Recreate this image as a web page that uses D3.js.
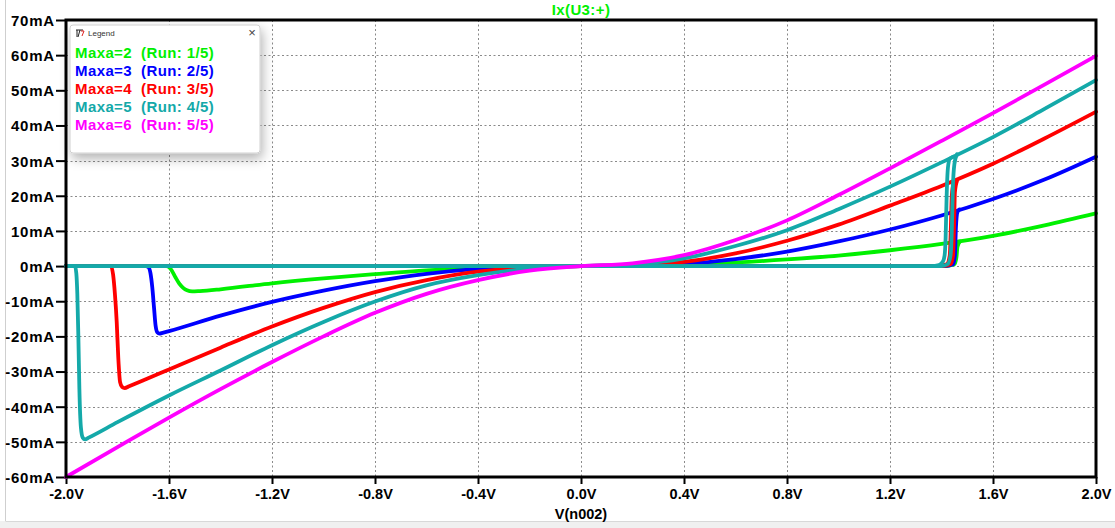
<!DOCTYPE html>
<html><head><meta charset="utf-8">
<script src="https://cdn.jsdelivr.net/npm/d3@7/dist/d3.min.js"></script>
<style>
html,body{margin:0;padding:0;background:#fff;}
svg text{font-family:"Liberation Sans",Arial,sans-serif;}
</style></head>
<body><svg id="c" width="1115" height="528"></svg>
<script>
// ---------- data ----------
const TITLE = "Ix(U3:+)";
const X_TITLE = "V(n002)";
const X_TICKS = [-2.0,-1.6,-1.2,-0.8,-0.4,0.0,0.4,0.8,1.2,1.6,2.0];
const X_TICK_LABELS = ["-2.0V","-1.6V","-1.2V","-0.8V","-0.4V","0.0V","0.4V","0.8V","1.2V","1.6V","2.0V"];
const Y_TICKS = [70,60,50,40,30,20,10,0,-10,-20,-30,-40,-50,-60];
const Y_TICK_LABELS = ["70mA","60mA","50mA","40mA","30mA","20mA","10mA","0mA","-10mA","-20mA","-30mA","-40mA","-50mA","-60mA"];

const SERIES_NAMES = ["Maxa=2","Maxa=3","Maxa=4","Maxa=5","Maxa=6"];
const RUN_LABELS = ["(Run: 1/5)","(Run: 2/5)","(Run: 3/5)","(Run: 4/5)","(Run: 5/5)"];
const COLORS = ["#00f000","#0000ff","#ff0000","#14a9a9","#ff00ff"];

// conductive (ON) branch, current in mA at the voltage grid (null = switched off there)
const V_GRID = [-2.0,-1.8,-1.6,-1.4,-1.2,-1.0,-0.8,-0.6,-0.4,-0.2,0.0,0.2,0.4,0.6,0.8,1.0,1.2,1.4,1.6,1.8,2.0];
const I_MAXA2 = [null,null,null,-6.6,-4.9,-3.5,-2.3,-1.2,-0.45,-0.08,0,0.06,0.4,1.0,1.9,3.0,4.5,6.3,8.6,11.6,15.0];
const I_MAXA3 = [null,null,-18.5,-14.1,-10.2,-7.0,-4.3,-2.2,-0.8,-0.15,0,0.12,0.6,2.0,4.1,7.0,10.4,14.4,19.1,24.6,31.1];
const I_MAXA4 = [null,null,-29.4,-23.2,-17.2,-11.9,-7.4,-4.0,-1.6,-0.4,0,0.25,1.2,3.6,7.2,11.8,17.2,22.8,29.1,36.3,43.9];
const I_MAXA5 = [null,-44.4,-36.8,-29.7,-22.5,-15.9,-10.1,-5.5,-2.6,-0.7,0,0.5,2.2,5.7,10.2,16.2,22.6,29.5,36.7,44.7,52.9];
const I_MAXA6 = [-60.0,-51.5,-43.1,-35.0,-27.3,-20.0,-13.3,-7.9,-4.0,-1.3,0,0.8,3.1,7.4,13.0,20.2,27.8,35.6,43.5,51.6,59.8];

// negative-side switch-off transitions [V, mA] (from the OFF level down to the ON branch)
const NEG_OFF_MAXA2 = [[-1.61,0],[-1.60,-0.3],[-1.59,-1.2],[-1.575,-3.2],[-1.56,-5.0],[-1.545,-6.2],[-1.53,-6.9],[-1.51,-7.2],[-1.48,-7.1]];
const NEG_OFF_MAXA3 = [[-1.69,0],[-1.68,-0.3],[-1.672,-2],[-1.665,-6],[-1.658,-12],[-1.652,-17.0],[-1.645,-18.9],[-1.637,-19.2],[-1.625,-19.0]];
const NEG_OFF_MAXA4 = [[-1.825,0],[-1.817,-2.5],[-1.81,-8],[-1.803,-16],[-1.797,-26],[-1.79,-33],[-1.782,-34.4],[-1.772,-34.7],[-1.755,-34.2]];
const NEG_OFF_MAXA5 = [[-1.965,0],[-1.96,-2],[-1.956,-8],[-1.952,-20],[-1.948,-35],[-1.942,-46],[-1.935,-48.8],[-1.926,-49.3],[-1.912,-48.8]];
const NEG_OFF_MAXA6 = [];

// positive-side switch-on transitions, two sweeps each [V, mA]
const POS_ON_MAXA2 = [[[1.40,0],[1.44,0.5],[1.45,2.5],[1.455,5.5],[1.465,6.9]],
                      [[1.41,0],[1.45,0.5],[1.458,2.5],[1.462,5.5],[1.472,7.0]]];
const POS_ON_MAXA3 = [[[1.39,0],[1.43,0.5],[1.44,3],[1.444,10],[1.45,14.6],[1.458,15.6]],
                      [[1.41,0],[1.445,0.5],[1.452,3],[1.456,11],[1.462,15.4],[1.47,16.1]]];
const POS_ON_MAXA4 = [[[1.38,0],[1.42,0.5],[1.432,3],[1.436,10],[1.44,20],[1.447,23.6]],
                      [[1.40,0],[1.435,0.5],[1.445,3],[1.449,12],[1.452,21],[1.46,24.2]]];
const POS_ON_MAXA5 = [[[1.36,0],[1.39,0.3],[1.405,1.2],[1.412,3],[1.416,8],[1.42,20],[1.425,28],[1.432,30.5],[1.445,31.1]],
                      [[1.40,0],[1.425,0.6],[1.435,3],[1.44,10],[1.444,22],[1.45,29],[1.46,31.8]]];
const POS_ON_MAXA6 = [];

// ---------- drawing ----------
const ON = [I_MAXA2,I_MAXA3,I_MAXA4,I_MAXA5,I_MAXA6];
const NEG = [NEG_OFF_MAXA2,NEG_OFF_MAXA3,NEG_OFF_MAXA4,NEG_OFF_MAXA5,NEG_OFF_MAXA6];
const POS = [POS_ON_MAXA2,POS_ON_MAXA3,POS_ON_MAXA4,POS_ON_MAXA5,POS_ON_MAXA6];

const svg = d3.select("#c");
const L = 66, R = 1096, T = 20, B = 477;
const x = d3.scaleLinear().domain([-2,2]).range([L,R]);
const y = d3.scaleLinear().domain([-60,70]).range([B,T]);

svg.append("rect").attr("width",1115).attr("height",528).attr("fill","#fff");
svg.append("rect").attr("x",0).attr("y",521).attr("width",1115).attr("height",7).attr("fill","#f0f0f0");
svg.append("line").attr("x1",5.5).attr("x2",5.5).attr("y1",0).attr("y2",521).attr("stroke","#cfcfcf");
svg.append("line").attr("x1",5.5).attr("x2",1115).attr("y1",521.5).attr("y2",521.5).attr("stroke","#d8d8d8");

// grid
const grid = svg.append("g").attr("stroke","#8a8a8a").attr("stroke-width",1).attr("stroke-dasharray","2,2.5");
X_TICKS.forEach(v=>grid.append("line").attr("x1",Math.round(x(v))+0.5).attr("x2",Math.round(x(v))+0.5).attr("y1",T).attr("y2",B));
Y_TICKS.forEach(v=>grid.append("line").attr("x1",L).attr("x2",R).attr("y1",Math.round(y(v))+0.5).attr("y2",Math.round(y(v))+0.5));

// axes via d3 axis
const xAxis = d3.axisBottom(x).tickValues(X_TICKS).tickFormat((d,i)=>X_TICK_LABELS[i]).tickSize(7).tickPadding(5);
const yAxis = d3.axisLeft(y).tickValues(Y_TICKS).tickFormat((d,i)=>Y_TICK_LABELS[i]).tickSize(10).tickPadding(1);
const gx = svg.append("g").attr("transform",`translate(0,${B})`).call(xAxis);
const gy = svg.append("g").attr("transform",`translate(${L},0)`).call(yAxis);
[gx,gy].forEach(g=>{
  g.select(".domain").remove();
  g.selectAll(".tick line").attr("stroke","#000").attr("stroke-width",2);
  g.selectAll(".tick text").attr("fill","#000").attr("font-weight","bold")
   .attr("font-family","'Liberation Sans',Arial,sans-serif");
});
gx.selectAll(".tick text").attr("font-size","14.5px");
gy.selectAll(".tick text").attr("font-size","15px").attr("letter-spacing","0.8px").attr("dy","0.36em");

// traces
const lineGen = d3.line().x(d=>x(d[0])).y(d=>y(d[1])).curve(d3.curveMonotoneX);
const plot = svg.append("g").attr("fill","none").attr("stroke-width",3.8).attr("stroke-linejoin","round").attr("stroke-linecap","round");
ON.forEach((arr,s)=>{
  const neg = NEG[s];
  const lastNegV = neg.length ? neg[neg.length-1][0] : -Infinity;
  const on = V_GRID.map((v,i)=>[v,arr[i]]).filter(p=>p[1]!==null && p[0]>lastNegV);
  const ptsA = (neg.length ? [[-2,0]] : []).concat(neg, on);
  plot.append("path").attr("d",lineGen(ptsA)).attr("stroke",COLORS[s]);
  POS[s].forEach(sw=>{
    const pts = [[-2,0]].concat(sw);
    plot.append("path").attr("d",lineGen(pts)).attr("stroke",COLORS[s]);
  });
});

// frame
const frame = svg.append("g").attr("stroke","#000").attr("stroke-width",3).attr("fill","none");
frame.append("rect").attr("x",L).attr("y",T).attr("width",R-L).attr("height",B-T);

// title
svg.append("text").attr("x",581).attr("y",15).attr("text-anchor","middle").attr("fill",COLORS[0])
  .attr("font-weight","bold").attr("font-size","15px").attr("letter-spacing","0.4px").text(TITLE);
svg.append("text").attr("x",581).attr("y",519).attr("text-anchor","middle").attr("fill","#000")
  .attr("font-weight","bold").attr("font-size","14.5px").text(X_TITLE);

// legend
const defs = svg.append("defs");
const f = defs.append("filter").attr("id","sh").attr("x","-20%").attr("y","-20%").attr("width","150%").attr("height","160%");
f.append("feDropShadow").attr("dx",2).attr("dy",5).attr("stdDeviation",6).attr("flood-color","#000").attr("flood-opacity",0.3);
const lg = svg.append("g");
lg.append("rect").attr("x",70).attr("y",25).attr("width",190).attr("height",128).attr("rx",3)
  .attr("fill","#fff").attr("stroke","#d0d0d0").attr("filter","url(#sh)");
// small icon
lg.append("path").attr("d","M76,30 h7 M77,30 v7 M80,30 l-2,7").attr("stroke","#222").attr("stroke-width",1).attr("fill","none");
lg.append("path").attr("d","M81,31 l3,0 l-2,5").attr("stroke","#d22").attr("stroke-width",1).attr("fill","none");
lg.append("text").attr("x",88).attr("y",36).attr("font-size","8px").attr("fill","#333").text("Legend");
lg.append("text").attr("x",252).attr("y",37).attr("text-anchor","middle").attr("font-size","13px").attr("fill","#444").text("×");
SERIES_NAMES.forEach((n,i)=>{
  lg.append("text").attr("x",75).attr("y",58+18*i).attr("fill",COLORS[i]).attr("font-weight","bold").attr("font-size","15px").attr("letter-spacing","0.4px").text(n);
  lg.append("text").attr("x",141).attr("y",58+18*i).attr("fill",COLORS[i]).attr("font-weight","bold").attr("font-size","15px").attr("letter-spacing","0.4px").text(RUN_LABELS[i]);
});
</script></body></html>
